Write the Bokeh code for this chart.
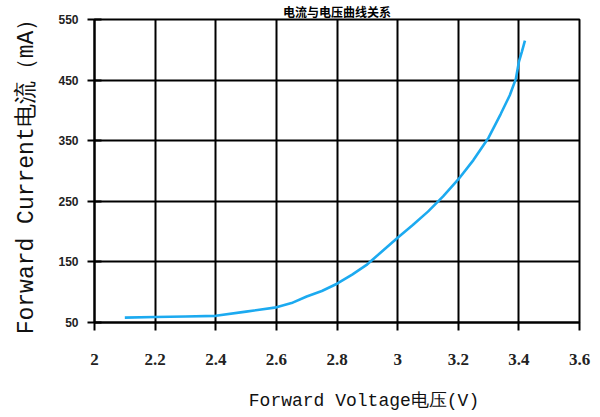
from bokeh.plotting import figure
from bokeh.models import FixedTicker, Range1d, LinearAxis
from bokeh.embed import file_html
from bokeh.resources import INLINE

# ---- data ----
voltage = [2.10, 2.20, 2.30, 2.40, 2.50, 2.60, 2.65, 2.70, 2.75, 2.80, 2.85, 2.90,
           2.95, 3.00, 3.05, 3.10, 3.15, 3.20, 3.25, 3.30, 3.34, 3.37, 3.39, 3.40,
           3.41, 3.42]
current = [58, 59, 60, 61, 68, 75, 82, 93, 102, 114, 129, 146,
           168, 190, 211, 233, 258, 286, 318, 355, 394, 425, 452, 480,
           497, 515]

x_ticks = [2.0, 2.2, 2.4, 2.6, 2.8, 3.0, 3.2, 3.4, 3.6]
x_tick_labels = ["2", "2.2", "2.4", "2.6", "2.8", "3", "3.2", "3.4", "3.6"]
y_ticks = [50, 150, 250, 350, 450, 550]

title_text = "电流与电压曲线关系"
x_label = "Forward Voltage电压(V)"
y_label = "Forward Current电流（mA）"

p = figure(width=600, height=416, output_backend="svg", toolbar_location=None,
           x_range=Range1d(2.0, 3.6), y_range=Range1d(50, 550),
           min_border_left=94, min_border_right=21, min_border_top=19,
           min_border_bottom=94)
p.background_fill_color = "white"
p.border_fill_color = "white"
p.outline_line_color = "black"
p.outline_line_width = 2

# title (mostly cut off at the top of the reference)
p.title.text = title_text
p.title.align = "center"
p.title.standoff = 0
p.title.text_font = "Noto Sans CJK SC"
p.title.text_font_size = "12px"
p.title.text_font_style = "bold"
p.title.text_color = "black"

# main axes and grid
xa = p.xaxis[0]
ya = p.yaxis[0]
xa.ticker = FixedTicker(ticks=x_ticks)
ya.ticker = FixedTicker(ticks=y_ticks)
p.xgrid.ticker = xa.ticker
p.ygrid.ticker = ya.ticker
for g in (p.xgrid, p.ygrid):
    g.grid_line_color = "black"
    g.grid_line_width = 2
    g.grid_line_alpha = 1.0

xa.major_label_overrides = {t: s for t, s in zip(x_ticks, x_tick_labels)}
xa.axis_line_width = 2
xa.axis_line_color = "black"
xa.major_tick_out = 8
xa.major_tick_in = 0
xa.major_tick_line_width = 2
xa.minor_tick_line_color = None
xa.major_label_standoff = 23
xa.major_label_text_font = "Liberation Serif"
xa.major_label_text_font_size = "17px"
xa.major_label_text_font_style = "bold"
xa.major_label_text_color = "#222222"

ya.axis_line_width = 2
ya.axis_line_color = "black"
ya.major_tick_out = 7
ya.major_tick_in = 7
ya.major_tick_line_width = 2
ya.minor_tick_line_color = None
ya.major_label_standoff = 9
ya.major_label_text_font = "Liberation Sans"
ya.major_label_text_font_size = "12px"
ya.major_label_text_font_style = "bold"
ya.major_label_text_color = "#222222"


def label_axis(text, size, standoff):
    """A bare axis that only carries an axis title."""
    return LinearAxis(ticker=FixedTicker(ticks=[]),
                      axis_line_color=None, major_tick_line_color=None,
                      minor_tick_line_color=None, major_tick_out=0,
                      major_tick_in=0, minor_tick_out=0, minor_tick_in=0,
                      major_label_standoff=0, major_label_text_font_size="1px",
                      axis_label=text, axis_label_standoff=standoff,
                      axis_label_text_font="Liberation Mono",
                      axis_label_text_font_size=size,
                      axis_label_text_font_style="normal",
                      axis_label_text_color="#111111")


# the reference's x title sits right of centre: pad it on the left
p.add_layout(label_axis("\u00a0" * 5 + x_label, "18px", 23), "below")
p.add_layout(label_axis(y_label, "23px", 16), "left")

# curve
p.line(voltage, current, line_color="#1CAAF0", line_width=2.6)

open("out.html", "w").write(file_html(p, INLINE))
